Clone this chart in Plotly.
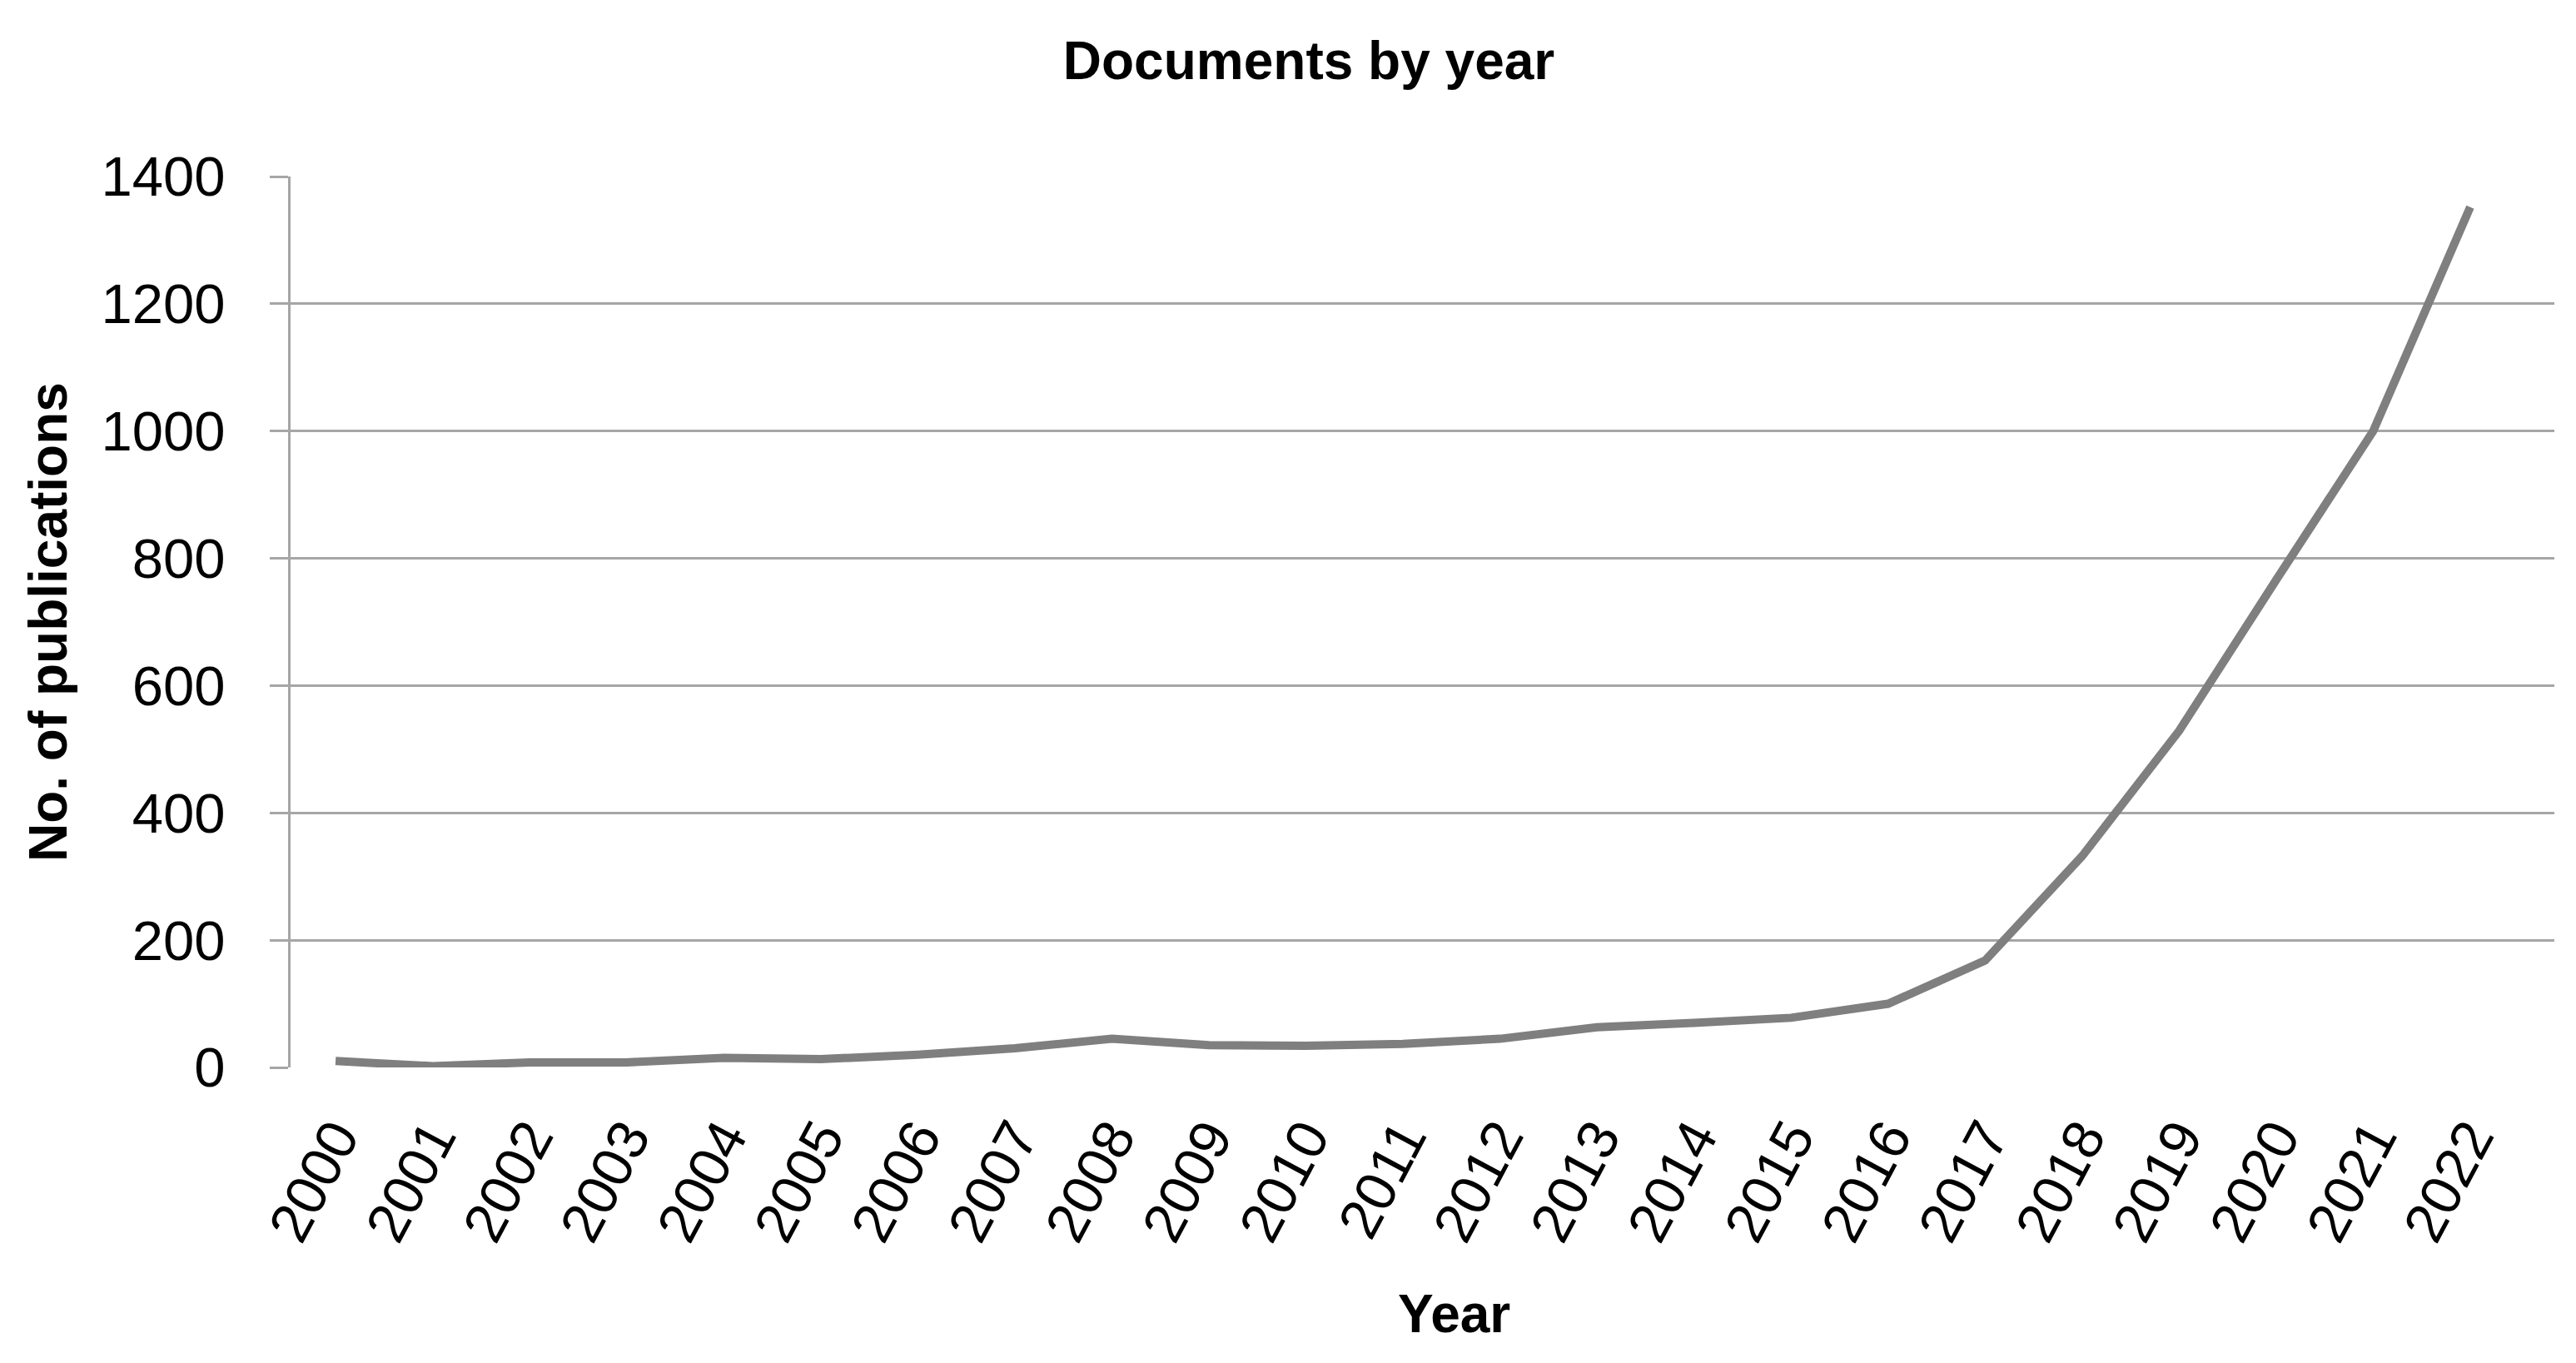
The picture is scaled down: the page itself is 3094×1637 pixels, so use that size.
import plotly.graph_objects as go

# Documents per year
years = list(range(2000, 2023))
documents = [10, 2, 8, 8, 15, 13, 20, 30, 45, 35, 34, 37, 45, 63, 70, 78, 100, 168, 332, 529, 766, 1000, 1352]

y_ticks = [0, 200, 400, 600, 800, 1000, 1200, 1400]

GRID = "#a6a6a6"
LINE = "#7f7f7f"
FONT = "Liberation Sans"

# the page body keeps an 8px margin, so the figure is 8px smaller each way
W, H = 3086, 1629

fig = go.Figure()
fig.add_trace(
    go.Scatter(
        x=years,
        y=documents,
        mode="lines",
        line=dict(color=LINE, width=10),
        showlegend=False,
        hoverinfo="x+y",
    )
)

fig.update_layout(
    width=W,
    height=H,
    paper_bgcolor="white",
    plot_bgcolor="white",
    margin=dict(l=341, r=26, t=204, b=355),
    title=dict(
        text="<b>Documents by year</b>",
        x=1564 / W,
        xref="container",
        xanchor="center",
        y=1 - 65 / H,
        yref="container",
        yanchor="middle",
        font=dict(family=FONT, size=64, color="black"),
    ),
    xaxis=dict(
        range=[1999.536, 2022.867],
        tickmode="array",
        tickvals=years,
        ticktext=[str(y) for y in years],
        tickangle=-62,
        tickfont=dict(family=FONT, size=68, color="black"),
        showgrid=False,
        showline=False,
        zeroline=False,
        ticks="",
        ticklabelstandoff=30,
    ),
    yaxis=dict(
        range=[0, 1400],
        tickvals=y_ticks,
        tickfont=dict(family=FONT, size=67, color="black"),
        showgrid=True,
        gridcolor=GRID,
        gridwidth=3,
        zeroline=False,
        showline=True,
        linecolor=GRID,
        linewidth=3,
        ticks="outside",
        ticklen=22,
        tickwidth=3,
        tickcolor=GRID,
        ticklabelstandoff=40,
    ),
    annotations=[
        dict(
            text="<b>No. of publications</b>",
            x=-0.107,
            y=0.5,
            xref="paper",
            yref="paper",
            xanchor="center",
            yanchor="middle",
            textangle=-90,
            showarrow=False,
            font=dict(family=FONT, size=64, color="black"),
        ),
        dict(
            text="<b>Year</b>",
            x=0.514,
            y=-0.277,
            xref="paper",
            yref="paper",
            xanchor="center",
            yanchor="middle",
            showarrow=False,
            font=dict(family=FONT, size=64, color="black"),
        ),
    ],
)

fig.write_html("out.html")
